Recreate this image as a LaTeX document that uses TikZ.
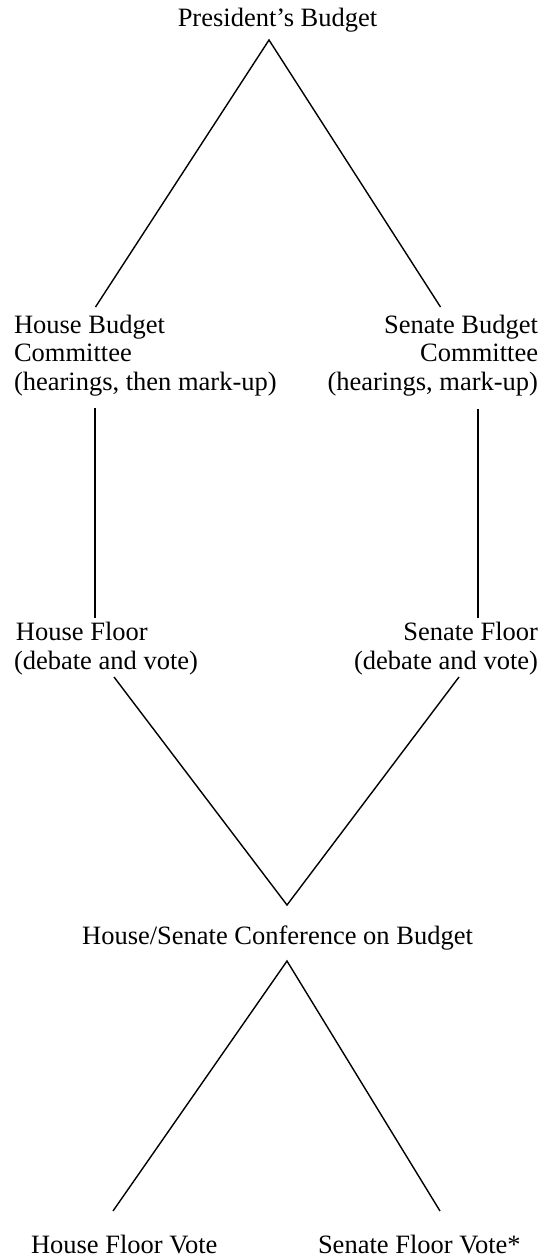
\documentclass[tikz,border=0pt]{standalone}
\usepackage{fontspec}
\setmainfont{Liberation Serif}
\begin{document}
\begin{tikzpicture}[x=1pt,y=-1pt,
  lbl/.style={font=\fontsize{26.5}{28.5}\selectfont, inner sep=0pt, outer sep=0pt},
  link/.style={line width=1.4pt, line cap=butt}]
\useasboundingbox (0,0) rectangle (545,1258);

% text nodes
\node[lbl,anchor=base] (pres) at (277.5,27) {President’s Budget};

\node[lbl,anchor=base west] (hb1) at (14,333) {House Budget};
\node[lbl,anchor=base west] (hb2) at (14,361.5) {Committee};
\node[lbl,anchor=base west] (hb3) at (14,390) {(hearings, then mark-up)};

\node[lbl,anchor=base east] (sb1) at (538,333) {Senate Budget};
\node[lbl,anchor=base east] (sb2) at (538,361.5) {Committee};
\node[lbl,anchor=base east] (sb3) at (538,390) {(hearings, mark-up)};

\node[lbl,anchor=base west] (hf1) at (16,640) {House Floor};
\node[lbl,anchor=base west] (hf2) at (14,669) {(debate and vote)};

\node[lbl,anchor=base east] (sf1) at (538,640) {Senate Floor};
\node[lbl,anchor=base east] (sf2) at (538,669) {(debate and vote)};

\node[lbl,anchor=base] (conf) at (277.5,944) {House/Senate Conference on Budget};

\node[lbl,anchor=base west] (hv) at (31,1253.5) {House Floor Vote};
\node[lbl,anchor=base west] (sv) at (318,1253.5) {Senate Floor Vote*};

% connector end points attached to the nodes
\coordinate (pres-out) at (269,40);
\coordinate (hb-in) at (95.5,307);
\coordinate (sb-in) at (440.5,307);
\coordinate (hb-out) at (95,408);
\coordinate (sb-out) at (478,409);
\coordinate (hf-in) at (95,618);
\coordinate (sf-in) at (478,618);
\coordinate (hf-out) at (114,677);
\coordinate (sf-out) at (459,677);
\coordinate (conf-in) at (287,905);
\coordinate (conf-out) at (287,961);
\coordinate (hv-in) at (113,1211);
\coordinate (sv-in) at (440,1211);

% connectors
\draw[link] (hb-in) -- (pres-out) -- (sb-in);
\draw[link] (hb-out) -- (hf-in);
\draw[link] (sb-out) -- (sf-in);
\draw[link] (hf-out) -- (conf-in) -- (sf-out);
\draw[link] (hv-in) -- (conf-out) -- (sv-in);
\end{tikzpicture}
\end{document}
